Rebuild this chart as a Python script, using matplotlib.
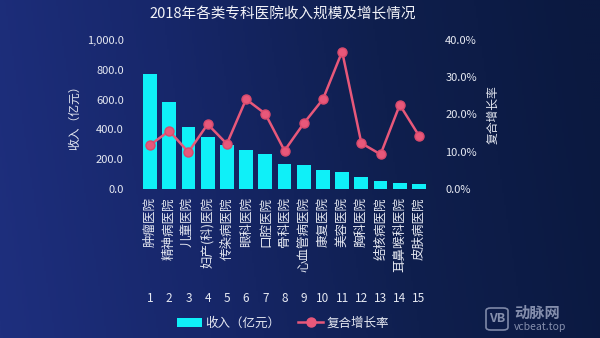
import numpy as np
import matplotlib
matplotlib.use("Agg")
import matplotlib.pyplot as plt
from matplotlib.colors import LinearSegmentedColormap
from matplotlib.lines import Line2D
from matplotlib.patches import Patch, FancyBboxPatch

plt.rcParams['font.family'] = ['Noto Sans CJK SC', 'DejaVu Sans']

# Data
ranks = ["1", "2", "3", "4", "5", "6", "7", "8", "9", "10", "11", "12", "13", "14", "15"]
hospitals = ["肿瘤医院", "精神病医院", "儿童医院", "妇产(科)医院", "传染病医院", "眼科医院",
             "口腔医院", "骨科医院", "心血管病医院", "康复医院", "美容医院", "胸科医院",
             "结核病医院", "耳鼻喉科医院", "皮肤病医院"]
revenue = [772, 582, 414, 351, 295, 262, 233, 168, 164, 127, 116, 83, 56, 38, 34]
cagr = [11.8, 15.6, 9.9, 17.4, 12.1, 24.1, 20.2, 10.3, 17.6, 24.1, 36.9, 12.3, 9.3, 22.6, 14.3]

BAR = "#0ff0f8"
LINE = "#e8587a"
TXT = "#e6e9f2"

W, H = 600, 338
fig = plt.figure(figsize=(W / 100, H / 100), dpi=100)

# Background gradient
bg = fig.add_axes([0, 0, 1, 1], zorder=-10)
bg.axis("off")
cmap = LinearSegmentedColormap.from_list("bg", ["#1e2f7e", "#17276a", "#0f1f4e", "#0b1940"])
xx = np.linspace(0, 1, 300)
yy = np.linspace(0, 1, 170)
X, Y = np.meshgrid(xx, yy)
grad = np.clip(X * 0.95 + (1 - Y) * 0.08, 0, 1)
bg.imshow(grad, cmap=cmap, aspect="auto", extent=[0, 1, 0, 1], origin="upper")
bg.set_xlim(0, 1)
bg.set_ylim(0, 1)

# Main axes
ax = fig.add_axes([140.4 / W, 1 - 189 / H, 288.2 / W, 149 / H])
ax.set_facecolor("none")
x = np.arange(len(hospitals))
ax.bar(x, revenue, width=0.72, color=BAR, zorder=2)
ax.set_xlim(-0.5, len(hospitals) - 0.5)
ax.set_ylim(0, 1000)
ax.set_yticks(np.arange(0, 1001, 200))
ax.set_yticklabels([f"{v:,.1f}" for v in np.arange(0, 1001, 200)], color=TXT, fontsize=8)
ax.set_xticks(x)
ax.set_xticklabels(hospitals, rotation=90, fontsize=9, color=TXT, va="top", ha="center")
ax.tick_params(axis="both", length=0, pad=6)
ax.tick_params(axis="y", pad=12)
for s in ax.spines.values():
    s.set_visible(False)
ax.set_ylabel("收入（亿元）", color=TXT, fontsize=8.5, labelpad=4)

# Rank numbers under the category names
for i, r in enumerate(ranks):
    ax.text(i, -0.735, r, transform=ax.get_xaxis_transform(), ha="center", va="center",
            color=TXT, fontsize=8.5)

ax2 = ax.twinx()
ax2.set_ylim(0, 40)
ax2.plot(x, cagr, color=LINE, lw=1.8, marker="o", markersize=6.5,
         markerfacecolor=LINE, markeredgecolor="#d94a6c", zorder=3)
ax2.set_yticks(np.arange(0, 41, 10))
ax2.set_yticklabels([f"{v:.1f}%" for v in np.arange(0, 41, 10)], color=TXT, fontsize=8)
ax2.tick_params(axis="y", length=0, pad=12)
for s in ax2.spines.values():
    s.set_visible(False)
ax2.set_ylabel("复合增长率", color=TXT, fontsize=8.5, labelpad=7)

# Title
fig.text(283 / W, 1 - 14 / H, "2018年各类专科医院收入规模及增长情况", ha="center", va="center",
         color="#f2f3f8", fontsize=10.5)

# Legend
handles = [Patch(facecolor=BAR, edgecolor="none", label="收入（亿元）"),
           Line2D([0], [0], color=LINE, lw=1.8, marker="o", markersize=6.5, label="复合增长率")]
fig.legend(handles=handles, loc="center", bbox_to_anchor=(283 / W, 1 - 323 / H), ncol=2,
           frameon=False, fontsize=9, labelcolor=TXT, handlelength=2.0, handleheight=0.7,
           columnspacing=1.4, handletextpad=0.3)

# Watermark
wm = "#9aa3bf"
fig.patches.append(FancyBboxPatch((486 / W, 1 - 330 / H), 22 / W, 22 / H,
                                  boxstyle="round,pad=0,rounding_size=0.008",
                                  transform=fig.transFigure, facecolor="none",
                                  edgecolor=wm, lw=1.2, alpha=0.8))
fig.text(497 / W, 1 - 319 / H, "VB", ha="center", va="center", color=wm, fontsize=9,
         fontweight="bold", alpha=0.85)
fig.text(514 / W, 1 - 313 / H, "动脉网", ha="left", va="center", color=wm, fontsize=11,
         fontweight="bold", alpha=0.85)
fig.text(514 / W, 1 - 327 / H, "vcbeat.top", ha="left", va="center", color=wm, fontsize=7.5,
         alpha=0.85)

fig.savefig("out.png", dpi=100)
